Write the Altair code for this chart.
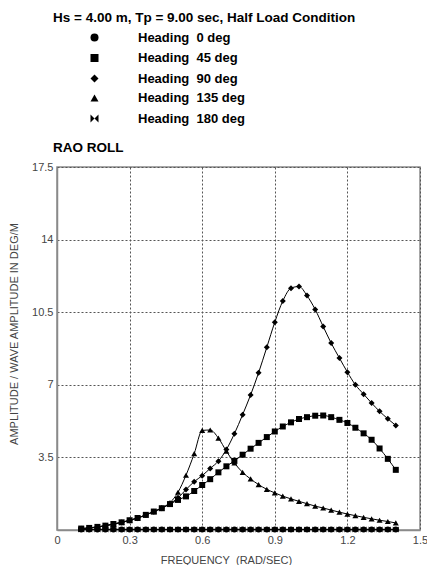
import altair as alt
import pandas as pd

freq = [0.100, 0.133, 0.167, 0.200, 0.233, 0.267, 0.300, 0.333, 0.367, 0.400,
        0.433, 0.467, 0.500, 0.533, 0.567, 0.600, 0.633, 0.667, 0.700, 0.733,
        0.767, 0.800, 0.833, 0.867, 0.900, 0.933, 0.967, 1.000, 1.033, 1.067,
        1.100, 1.133, 1.167, 1.200, 1.233, 1.267, 1.300, 1.333, 1.367, 1.400]

h0 = [0.03] * 40
h180 = [0.03] * 40
h45 = [0.07, 0.10, 0.15, 0.21, 0.29, 0.37, 0.47, 0.58, 0.73, 0.89,
       1.05, 1.25, 1.45, 1.62, 1.88, 2.17, 2.45, 2.78, 3.07, 3.33,
       3.63, 3.92, 4.20, 4.48, 4.75, 4.99, 5.19, 5.35, 5.44, 5.51,
       5.52, 5.44, 5.31, 5.16, 4.93, 4.66, 4.35, 3.93, 3.43, 2.90]
h90 = [0.06, 0.09, 0.14, 0.20, 0.28, 0.36, 0.46, 0.57, 0.72, 0.88,
       1.05, 1.27, 1.55, 1.95, 2.33, 2.62, 2.97, 3.32, 3.88, 4.64,
       5.56, 6.51, 7.58, 8.81, 10.02, 11.04, 11.66, 11.74, 11.30, 10.63,
       9.81, 9.01, 8.29, 7.61, 7.00, 6.55, 6.12, 5.72, 5.36, 5.04]
h135 = [0.07, 0.10, 0.15, 0.21, 0.29, 0.37, 0.47, 0.58, 0.73, 0.89,
        1.07, 1.32, 1.82, 2.64, 3.68, 4.80, 4.82, 4.43, 3.80, 3.23,
        2.78, 2.46, 2.19, 1.96, 1.79, 1.63, 1.50, 1.38, 1.27, 1.15,
        1.06, 0.96, 0.86, 0.77, 0.69, 0.61, 0.54, 0.47, 0.41, 0.34]

SP = "\u00a0\u00a0"
labels = ["Heading" + SP + "0 deg", "Heading" + SP + "45 deg", "Heading" + SP + "90 deg",
          "Heading" + SP + "135 deg", "Heading" + SP + "180 deg"]
series = [h0, h45, h90, h135, h180]
bowtie = "M-1,-1L0,0L-1,1ZM1,-1L0,0L1,1Z"
shapes = ["circle", "square", "diamond", "triangle-up", bowtie]

rows = []
for lab, vals in zip(labels, series):
    for f, v in zip(freq, vals):
        rows.append({"freq": f, "amp": v, "series": lab})
df = pd.DataFrame(rows)

FONT = "Liberation Sans"

x = alt.X("freq:Q", scale=alt.Scale(domain=[0, 1.5], nice=False),
          axis=alt.Axis(values=[0, 0.3, 0.6, 0.9, 1.2, 1.5], format=".1~f",
                        labelFlush=False,
                        title="FREQUENCY\u00a0\u00a0(RAD/SEC)",
                        titleX=169, titlePadding=9))
y = alt.Y("amp:Q", scale=alt.Scale(domain=[0, 17.5], nice=False),
          axis=alt.Axis(values=[3.5, 7, 10.5, 14, 17.5], format=".1~f",
                        labelFlush=False,
                        title="AMPLITUDE / WAVE AMPLITUDE IN DEG/M",
                        titleFontSize=11, titleY=166.5, titlePadding=12))

base = alt.Chart(df)
lines = base.mark_line(color="black", strokeWidth=1, interpolate="monotone").encode(
    x=x, y=y, detail="series:N")
points = base.mark_point(filled=True, color="black", opacity=1, size=36).encode(
    x=x, y=y,
    shape=alt.Shape("series:N", scale=alt.Scale(domain=labels, range=shapes),
                    legend=alt.Legend(title=None, orient="none", legendX=31, legendY=-136,
                                      symbolSize=64, symbolFillColor="black",
                                      symbolStrokeColor="black",
                                      labelOffset=37, rowPadding=5.5, padding=0,
                                      labelFont=FONT, labelFontSize=13,
                                      labelFontWeight="bold", labelColor="black")),
)

chart = alt.layer(lines, points).properties(
    width=363, height=363,
    title=alt.TitleParams(text="Hs = 4.00 m, Tp = 9.00 sec, Half Load Condition",
                          subtitle="RAO ROLL", anchor="start", frame="group", dx=-4, dy=130,
                          font=FONT, fontSize=13.5, fontWeight="bold", color="black",
                          subtitleFont=FONT, subtitleFontSize=13.5, subtitleFontWeight="bold",
                          subtitleColor="black", subtitlePadding=116, offset=7),
    autosize=alt.AutoSizeParams(type="none"),
    padding={"left": 57, "top": 167, "right": 7, "bottom": 35},
).configure_view(stroke="#8a8a8a", strokeWidth=1.5).configure_axis(
    labelFont=FONT, labelFontSize=11, labelColor="#444444",
    titleFont=FONT, titleFontSize=11, titleFontWeight="normal", titleColor="#444444",
    grid=True, gridDash=[2, 2], gridColor="#555555", gridWidth=1,
    domainColor="#8a8a8a", domainWidth=1.5, ticks=False, labelPadding=4,
)

chart.save("out.html", embed_options={"renderer": "svg", "actions": False})
